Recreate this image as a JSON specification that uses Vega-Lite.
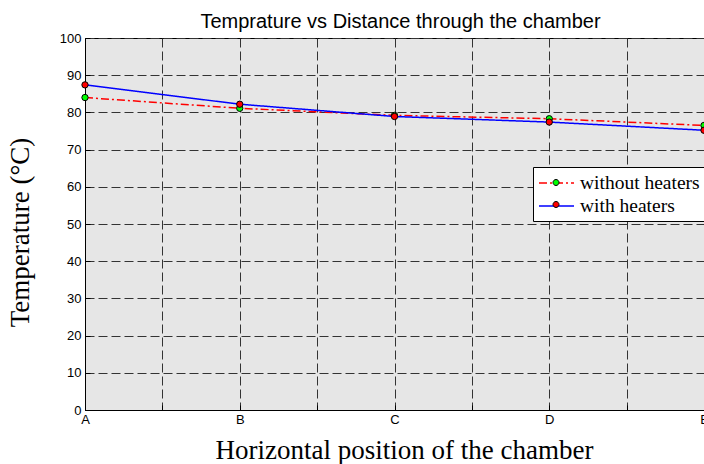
{
  "$schema": "https://vega.github.io/schema/vega-lite/v6.json",
  "width": 619,
  "height": 372,
  "autosize": {"type": "none"},
  "padding": {"left": 85, "top": 38, "right": 0, "bottom": 54},
  "background": "white",
  "title": {
    "text": "Temprature vs Distance through the chamber",
    "font": "Liberation Sans",
    "fontSize": 20,
    "fontWeight": "normal",
    "color": "black",
    "anchor": "middle",
    "frame": "group",
    "offset": 0,
    "dx": 6
  },
  "config": {
    "view": {"stroke": "black", "strokeWidth": 1, "fill": "#e6e6e6"},
    "axis": {
      "labelFont": "Liberation Sans",
      "labelFontSize": 13,
      "labelColor": "black",
      "domainColor": "black",
      "tickColor": "black",
      "gridColor": "#333333",
      "gridDash": [9, 4],
      "gridOpacity": 1,
      "gridWidth": 1,
      "titleFont": "Liberation Serif",
      "titleFontSize": 27,
      "titleFontWeight": "normal",
      "titleColor": "black"
    }
  },
  "data": {
    "values": [
      {"pos": 0, "series": "without heaters", "temp": 84.0},
      {"pos": 1, "series": "without heaters", "temp": 81.1},
      {"pos": 2, "series": "without heaters", "temp": 79.2},
      {"pos": 3, "series": "without heaters", "temp": 78.3},
      {"pos": 4, "series": "without heaters", "temp": 76.5},
      {"pos": 0, "series": "with heaters", "temp": 87.4},
      {"pos": 1, "series": "with heaters", "temp": 82.2},
      {"pos": 2, "series": "with heaters", "temp": 78.9},
      {"pos": 3, "series": "with heaters", "temp": 77.4},
      {"pos": 4, "series": "with heaters", "temp": 75.2}
    ]
  },
  "encoding": {
    "x": {
      "field": "pos",
      "type": "quantitative",
      "scale": {"domain": [0, 4], "nice": false, "zero": false},
      "axis": {
        "title": "Horizontal position of the chamber",
        "values": [0, 0.5, 1, 1.5, 2, 2.5, 3, 3.5, 4],
        "labelExpr": "datum.value % 1 == 0 ? ['A','B','C','D','E'][datum.value] : ''",
        "labelPadding": 8,
        "tickSize": -5,
        "titlePadding": 11,
        "titleX": 319,
        "labelFlush": false,
        "labelOverlap": false
      }
    },
    "y": {
      "field": "temp",
      "type": "quantitative",
      "scale": {"domain": [0, 100], "nice": false},
      "axis": {
        "title": "Temperature (°C)",
        "values": [0, 10, 20, 30, 40, 50, 60, 70, 80, 90, 100],
        "tickSize": -5,
        "labelPadding": 9,
        "titlePadding": 25,
        "titleY": 194,
        "labelFlush": false,
        "labelOverlap": false
      }
    }
  },
  "layer": [
    {
      "mark": {"type": "line", "strokeWidth": 1.5},
      "encoding": {
        "color": {
          "field": "series",
          "type": "nominal",
          "sort": "descending",
          "scale": {"range": ["#ff0000", "#0000ff"]},
          "legend": {
            "title": null,
            "orient": "none",
            "legendX": 448,
            "legendY": 129,
            "zindex": 0,
            "padding": 5,
            "fillColor": "white",
            "strokeColor": "black",
            "symbolType": "M-1,0H2.5",
            "symbolSize": 400,
            "symbolStrokeWidth": 1.5,
            "labelFont": "Liberation Serif",
            "labelFontSize": 19.5,
            "labelColor": "black",
            "labelOffset": 20,
            "rowPadding": 2
          }
        },
        "strokeDash": {
          "field": "series",
          "type": "nominal",
          "sort": "descending",
          "scale": {"range": [[8, 3, 2, 3], [1, 0]]},
          "legend": {
            "title": null,
            "orient": "none",
            "legendX": 448,
            "legendY": 129,
            "zindex": 0,
            "padding": 5,
            "fillColor": "white",
            "strokeColor": "black",
            "symbolType": "M-1,0H2.5",
            "symbolSize": 400,
            "symbolStrokeWidth": 1.5,
            "labelFont": "Liberation Serif",
            "labelFontSize": 19.5,
            "labelColor": "black",
            "labelOffset": 20,
            "rowPadding": 2
          }
        }
      }
    },
    {
      "mark": {"type": "point", "filled": true, "size": 40, "stroke": "black", "strokeWidth": 1, "opacity": 1},
      "encoding": {
        "fill": {
          "field": "series",
          "type": "nominal",
          "scale": {"domain": ["without heaters", "with heaters"], "range": ["#00ff00", "#ff0000"]},
          "legend": {
            "title": null,
            "orient": "none",
            "legendX": 448,
            "legendY": 129,
            "zindex": 1,
            "padding": 5,
            "symbolType": "M0.45,0A0.3,0.3,0,1,1,1.05,0A0.3,0.3,0,1,1,0.45,0Z",
            "symbolSize": 400,
            "symbolStrokeColor": "black",
            "symbolStrokeWidth": 1,
            "symbolOpacity": 1,
            "labelFont": "Liberation Serif",
            "labelFontSize": 19.5,
            "labelColor": "transparent",
            "labelOffset": 20,
            "rowPadding": 2
          }
        }
      }
    }
  ]
}
